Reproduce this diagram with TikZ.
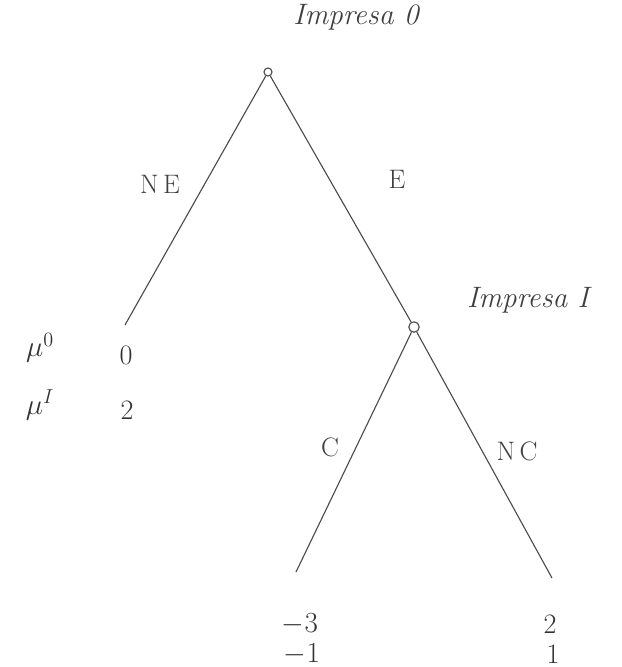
\documentclass[tikz,border=0pt]{standalone}
\usepackage{amsmath, amssymb}
\usepackage{xcolor}
\usepackage{tikz}
\usetikzlibrary{positioning}

\begin{document}
\begin{tikzpicture}[
    x=0.025cm, y=-0.025cm,
    dec/.style    = {draw, circle, inner sep=0pt, minimum size=2.6mm, thick, color=black!70},
    lbl/.style    = {font=\fontsize{19}{21}\selectfont, color=black!75},
    who/.style    = {font=\itshape\fontsize{21}{23}\selectfont, color=black!75},
    pay/.style    = {font=\fontsize{20}{22}\selectfont, color=black!80, inner sep=0pt},
    branch/.style = {thick, color=black!70}
]
\useasboundingbox (0,0) rectangle (621,667);

% ---- Decision nodes ----
\node[dec, minimum size=2mm] (r)  at (268,72)  {};
\node[dec]                   (fi) at (414,327) {};

% ---- Terminal points ----
\coordinate (ne) at (125,325);
\coordinate (c)  at (296,572);
\coordinate (nc) at (552,578);

% ---- Player labels ----
\node[who] (t0) at (356,17)  {Impresa 0};
\node[who] (t1) at (528,300) {Impresa I};

% ---- Branches ----
\draw[branch] (r)  -- (ne);
\draw[branch] (r)  -- (fi);
\draw[branch] (fi) -- (c);
\draw[branch] (fi) -- (nc);

% ---- Action labels ----
\node[lbl] (lne) at (160,184) {N\,E};
\node[lbl] (le)  at (397,179) {E};
\node[lbl] (lc)  at (330,447) {C};
\node[lbl] (lnc) at (517,451) {N\,C};

% ---- Payoffs ----
\node[pay] (u0) at (40,348) {$\mu^{0}$};
\node[pay] (u1) at (40,405) {$\mu^{I}$};
\node[pay] (p1) at (126,355) {0};
\node[pay] (p2) at (127,410) {2};
\node[pay] (p3) at (300,624) {$-3$};
\node[pay] (p4) at (302,654) {$-1$};
\node[pay] (p5) at (550,624) {2};
\node[pay] (p6) at (553,654) {1};

\end{tikzpicture}
\end{document}
